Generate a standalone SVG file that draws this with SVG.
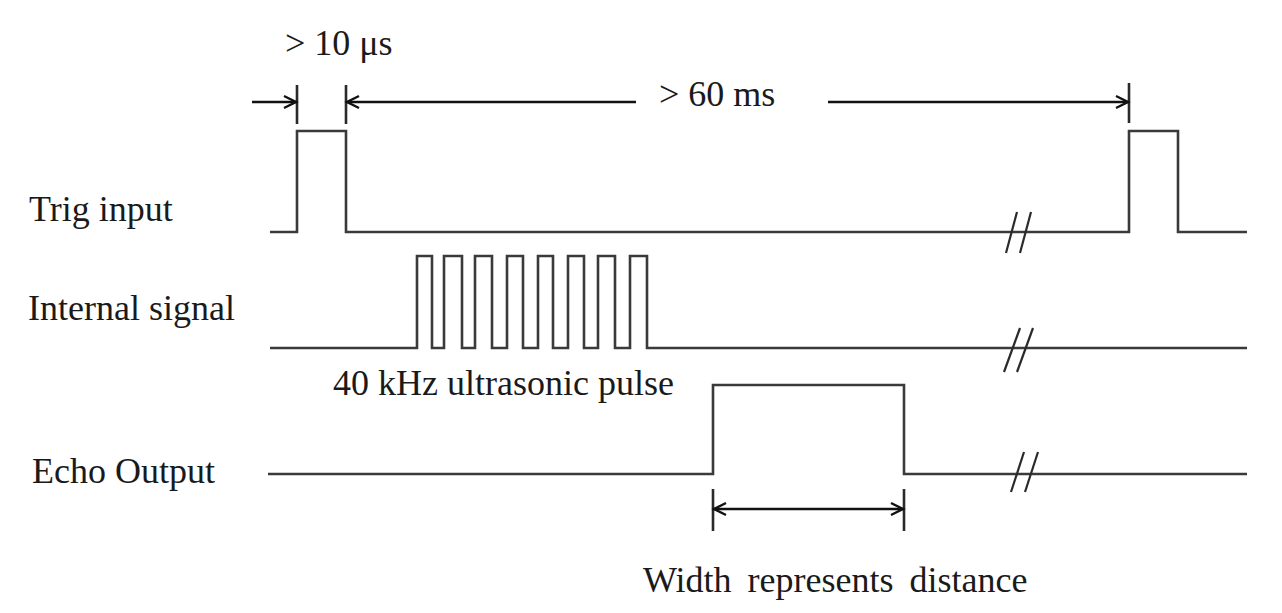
<svg xmlns="http://www.w3.org/2000/svg" width="1282" height="613" viewBox="0 0 1282 613">
<defs>
<marker id="ah" markerUnits="userSpaceOnUse" markerWidth="16" markerHeight="16" refX="13" refY="7" orient="auto-start-reverse" viewBox="0 0 16 14">
<path d="M1,1 L13,7 L1,13" fill="none" stroke="#111" stroke-width="2.4"/>
</marker>
</defs>
<style>
text{font-family:"Liberation Serif","Times New Roman",serif;font-size:36px;fill:#1a1a1a}
.w{fill:none;stroke:#3a3a3a;stroke-width:2.6;stroke-linejoin:miter}
.tick{stroke:#2a2a2a;stroke-width:2.6}
.dim{stroke:#111;stroke-width:2.6;fill:none}
.brk{stroke:#2a2a2a;stroke-width:2.2}
</style>
<rect width="1282" height="613" fill="#fff"/>
<g id="trig">
<text x="29" y="221">Trig input</text>
<path class="w" d="M270,232 H297 V131 H346 V232 H1129 V131 H1178 V232 H1247"/>
<line class="brk" x1="1017" y1="212" x2="1006" y2="253"/>
<line class="brk" x1="1031" y1="212" x2="1020" y2="253"/>
</g>
<g id="internal">
<text x="28" y="320">Internal signal</text>
<path class="w" d="M270,348 H417 V256 H432 V348 H444 V256 H462 V348 H475 V256 H492 V348 H507 V256 H523 V348 H538 V256 H553 V348 H568 V256 H584 V348 H598 V256 H615 V348 H630 V256 H647 V348 H1247"/>
<line class="brk" x1="1020" y1="328" x2="1004" y2="372"/>
<line class="brk" x1="1033" y1="328" x2="1017" y2="372"/>
<text x="333" y="395">40 kHz ultrasonic pulse</text>
</g>
<g id="echo">
<text x="32" y="483">Echo Output</text>
<path class="w" d="M268,474 H713 V385 H904 V474 H1247"/>
<line class="brk" x1="1024" y1="452" x2="1011" y2="492"/>
<line class="brk" x1="1038" y1="452" x2="1025" y2="492"/>
<text x="643" y="592" word-spacing="7">Width represents distance</text>
</g>
<g id="connectors">
<line class="tick" x1="297" y1="85" x2="297" y2="124"/>
<line class="tick" x1="346" y1="85" x2="346" y2="124"/>
<line class="tick" x1="1129" y1="83" x2="1129" y2="123"/>
<line class="tick" x1="713" y1="489" x2="713" y2="531"/>
<line class="tick" x1="904" y1="489" x2="904" y2="531"/>
<line class="dim" x1="252" y1="102" x2="296" y2="102" marker-end="url(#ah)"/>
<line class="dim" x1="636" y1="102" x2="347" y2="102" marker-end="url(#ah)"/>
<line class="dim" x1="828" y1="102" x2="1128" y2="102" marker-end="url(#ah)"/>
<line class="dim" x1="714" y1="509" x2="903" y2="509" marker-start="url(#ah)" marker-end="url(#ah)"/>
<text x="285" y="55">&gt; 10 μs</text>
<text x="659" y="106">&gt; 60 ms</text>
</g>
</svg>
